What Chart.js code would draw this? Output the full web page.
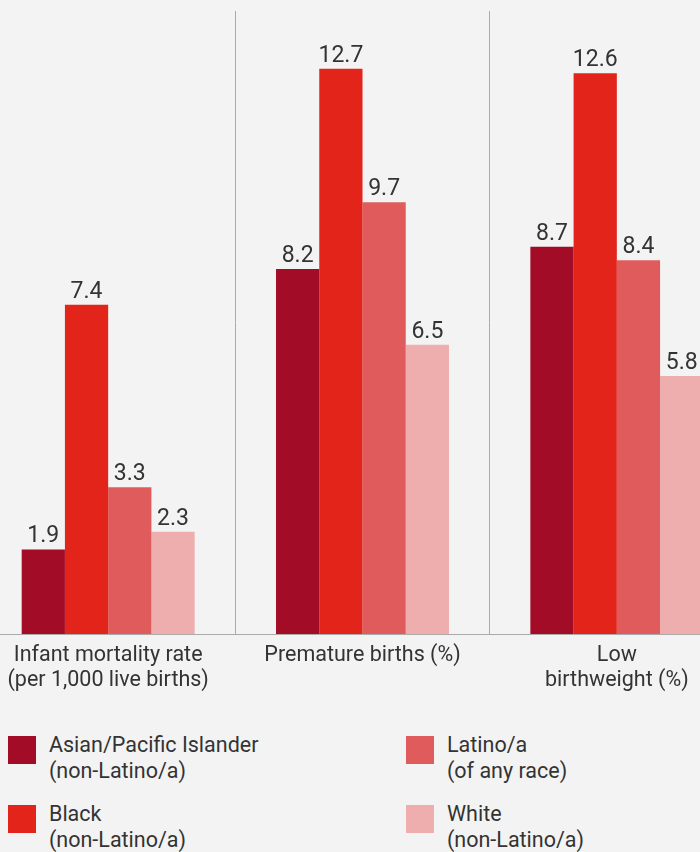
<!DOCTYPE html>
<html>
<head>
<meta charset="utf-8">
<script src="https://cdn.jsdelivr.net/npm/chart.js@4.4.1/dist/chart.umd.min.js"></script>
<style>
  html, body { margin:0; padding:0; background:#f3f3f3; }
  #wrap { position:relative; width:700px; height:852px; overflow:hidden; background:#f3f3f3; }
  #chart { position:absolute; left:-19px; top:0; }
  #legend { position:absolute; left:8px; top:732px; width:700px; font-family:Roboto, sans-serif; font-size:21.5px; line-height:26px; color:#333; }
  .item { position:absolute; display:flex; }
  .sw { width:28px; height:28px; margin-top:4px; margin-right:13px; flex:none; }
</style>
</head>
<body>
<div id="wrap">
  <canvas id="chart" width="763" height="720"></canvas>
  <div id="legend"></div>
</div>
<script>
// ------------------- Data -------------------
const categories = [
  ["Infant mortality rate", "(per 1,000 live births)"],
  ["Premature births (%)"],
  ["Low", "birthweight (%)"]
];
const seriesNames = [
  ["Asian/Pacific Islander", "(non-Latino/a)"],
  ["Black", "(non-Latino/a)"],
  ["Latino/a", "(of any race)"],
  ["White", "(non-Latino/a)"]
];
const asianValues  = [1.9, 8.2, 8.7];
const blackValues  = [7.4, 12.7, 12.6];
const latinoValues = [3.3, 9.7, 8.4];
const whiteValues  = [2.3, 6.5, 5.8];
const colors = ["#a30c26", "#e3241b", "#e05c5c", "#eeaeae"];

const allValues = [asianValues, blackValues, latinoValues, whiteValues];

// ------------------- Value labels -------------------
const valueLabels = {
  id: "valueLabels",
  afterDatasetsDraw(chart){
    const ctx = chart.ctx;
    ctx.save();
    ctx.font = "23px Roboto, sans-serif";
    ctx.fillStyle = "#333";
    ctx.textAlign = "center";
    ctx.textBaseline = "alphabetic";
    chart.data.datasets.forEach((ds, i)=>{
      chart.getDatasetMeta(i).data.forEach((bar, j)=>{
        ctx.fillText(ds.data[j].toFixed(1), bar.x, bar.y - 7);
      });
    });
    ctx.restore();
  }
};

// ------------------- Chart -------------------
new Chart(document.getElementById("chart"), {
  type: "bar",
  data: {
    labels: categories,
    datasets: allValues.map((vals, i)=>({
      label: seriesNames[i].join(" "),
      data: vals,
      backgroundColor: colors[i],
      borderWidth: 0,
      barPercentage: 1,
      categoryPercentage: 0.68
    }))
  },
  options: {
    responsive: false,
    animation: false,
    devicePixelRatio: 1,
    layout: { padding: { top: 11, left: 0, right: 0, bottom: 0 } },
    plugins: { legend: { display:false }, tooltip: { enabled:false } },
    scales: {
      x: {
        offset: true,
        grid: { display:true, offset:true, color:"#aaa", lineWidth:1, drawTicks:false },
        border: { display:true, color:"#aaa", width:1 },
        ticks: {
          color: "#333",
          padding: 9,
          maxRotation: 0,
          autoSkip: false,
          font: { family:"Roboto", size:21.5, lineHeight:1.17 }
        },
        afterFit(scale){ scale.height = 720 - 634; }
      },
      y: {
        display: false,
        min: 0,
        max: 14
      }
    }
  },
  plugins: [valueLabels]
});

// ------------------- Legend -------------------
const legend = document.getElementById("legend");
seriesNames.forEach((name, i)=>{
  const item = document.createElement("div");
  item.className = "item";
  item.style.left = (i < 2 ? 0 : 398) + "px";
  item.style.top = (i % 2 === 0 ? 0 : 69) + "px";
  item.innerHTML = `<div class="sw" style="background:${colors[i]}"></div><div>${name[0]}<br>${name[1]}</div>`;
  legend.appendChild(item);
});
</script>
</body>
</html>
